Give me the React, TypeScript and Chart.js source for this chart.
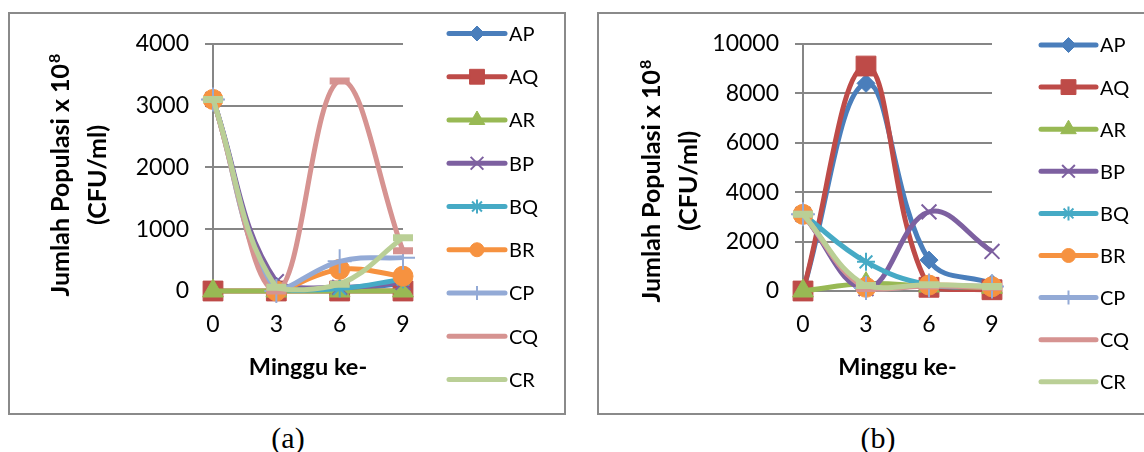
import { useEffect, useRef } from "react";
import { Chart, registerables, PointElement } from "chart.js";

Chart.register(...registerables);

// Sampling weeks and axis ticks
const weeks = [0, 3, 6, 9];
const xTicks = [0, 3, 6, 9];
const yTicksA = [0, 1000, 2000, 3000, 4000];
const yTicksB = [0, 2000, 4000, 6000, 8000, 10000];

// Treatment series names
const seriesNames = ["AP", "AQ", "AR", "BP", "BQ", "BR", "CP", "CQ", "CR"];

// Panel (a) population values (x 10^8 CFU/ml)
const aAP = [3100, 80, 30, 120];
const aAQ = [0, 0, 0, 0];
const aAR = [0, 0, 0, 0];
const aBP = [3100, 150, 60, 140];
const aBQ = [3100, 40, 40, 190];
const aBR = [3100, 0, 350, 240];
const aCP = [3100, 0, 480, 540];
const aCQ = [3100, 0, 3400, 650];
const aCR = [3100, 60, 110, 860];

// Panel (b) population values (x 10^8 CFU/ml)
const bAP = [0, 8400, 1250, 300];
const bAQ = [0, 9100, 150, 50];
const bAR = [0, 300, 200, 150];
const bBP = [3100, 100, 3200, 1600];
const bBQ = [3100, 1180, 250, 200];
const bBR = [3100, 150, 240, 170];
const bCP = [3100, 120, 220, 180];
const bCQ = [3100, 100, 200, 150];
const bCR = [3100, 220, 250, 180];

// Axis titles and captions
const xTitle = "Minggu ke-";
const yTitleMain = "Jumlah Populasi x 10";
const yTitleExp = "8";
const yTitleUnit = "(CFU/ml)";
const captionA = "(a)";
const captionB = "(b)";

// Styling
const seriesColors = [
  "#4A7EBB",
  "#BE4B48",
  "#98B954",
  "#7D60A0",
  "#46AAC5",
  "#F69240",
  "#93AAD6",
  "#D69391",
  "#BACF96",
];
const markerStyles = ["rectRot", "rect", "triangle", "crossRot", "star", "circle", "cross", "line", "line"];
const markerRadius = [9, 14, 12, 10.5, 9, 10, 12, 10, 10];
const markerBorder = [1, 1, 1, 2, 2, 1, 2, 7, 7];
const legendRadius = [7.5, 10.5, 9, 9, 7, 7, 7, 0, 0];
const legendBorder = [1, 1, 1, 2, 2, 1, 2, 0, 0];

const gridColor = "#868686";
const FONT = "Lato, 'Open Sans', sans-serif";

type PanelSpec = {
  width: number;
  height: number;
  values: number[][];
  yTicks: number[];
  plotLeft: number;
  plotRight: number;
  plotTop: number;
  plotBottom: number;
  yTitleX: number;
  yTitleY: number;
  legendLineX1: number;
  legendLineX2: number;
  legendTextX: number;
  legendTop: number;
  legendStep: number;
};

const panelA: PanelSpec = {
  width: 554,
  height: 399,
  values: [aAP, aAQ, aAR, aBP, aBQ, aBR, aCP, aCQ, aCR],
  yTicks: yTicksA,
  plotLeft: 203,
  plotRight: 393,
  plotTop: 28,
  plotBottom: 277,
  yTitleX: 68.5,
  yTitleY: 161,
  legendLineX1: 439,
  legendLineX2: 495,
  legendTextX: 499,
  legendTop: 19.5,
  legendStep: 43.25,
};

const panelB: PanelSpec = {
  width: 548,
  height: 399,
  values: [bAP, bAQ, bAR, bBP, bBQ, bBR, bCP, bCQ, bCR],
  yTicks: yTicksB,
  plotLeft: 204,
  plotRight: 393,
  plotTop: 28,
  plotBottom: 277,
  yTitleX: 70,
  yTitleY: 167,
  legendLineX1: 442,
  legendLineX2: 497,
  legendTextX: 501,
  legendTop: 31,
  legendStep: 42.1,
};

function decorations(spec: PanelSpec) {
  return {
    id: "panelDecorations",
    afterDraw(chart: any) {
      const ctx: CanvasRenderingContext2D = chart.ctx;
      const area = chart.chartArea;
      ctx.save();
      ctx.fillStyle = "#000";

      // x-axis title
      ctx.font = `bold 23.5px ${FONT}`;
      ctx.textAlign = "center";
      ctx.textBaseline = "middle";
      ctx.fillText(xTitle, (area.left + area.right) / 2, 353);

      // y-axis title, two lines with a superscript exponent
      ctx.save();
      ctx.translate(spec.yTitleX, spec.yTitleY);
      ctx.rotate(-Math.PI / 2);
      ctx.textBaseline = "alphabetic";
      ctx.textAlign = "left";
      const mainFont = `bold 25px ${FONT}`;
      const supFont = `bold 16px ${FONT}`;
      ctx.font = mainFont;
      const w1 = ctx.measureText(yTitleMain).width;
      ctx.font = supFont;
      const w2 = ctx.measureText(yTitleExp).width;
      const sx = -(w1 + w2 + 1) / 2;
      ctx.font = mainFont;
      ctx.fillText(yTitleMain, sx, -18.5 + 9);
      ctx.font = supFont;
      ctx.fillText(yTitleExp, sx + w1 + 1, -18.5 + 9 - 9);
      ctx.font = mainFont;
      ctx.textAlign = "center";
      ctx.fillText(yTitleUnit, 0, 18.5 + 9);
      ctx.restore();

      // legend: line sample, marker and name for each series
      const full = { left: 0, top: 0, right: 10000, bottom: 10000 };
      seriesNames.forEach((name, i) => {
        const y = spec.legendTop + i * spec.legendStep;
        const color = seriesColors[i];
        ctx.save();
        ctx.strokeStyle = color;
        ctx.lineWidth = 5;
        ctx.lineCap = "round";
        ctx.beginPath();
        ctx.moveTo(spec.legendLineX1, y);
        ctx.lineTo(spec.legendLineX2, y);
        ctx.stroke();
        ctx.restore();
        if (legendRadius[i] > 0) {
          const pt: any = new PointElement({
            x: (spec.legendLineX1 + spec.legendLineX2) / 2,
            y,
            options: {
              pointStyle: markerStyles[i],
              radius: legendRadius[i],
              rotation: 0,
              borderWidth: legendBorder[i],
              borderColor: color,
              backgroundColor: color,
            },
          } as any);
          pt.draw(ctx, full);
        }
        ctx.fillStyle = "#000";
        ctx.font = `20px ${FONT}`;
        ctx.textAlign = "left";
        ctx.textBaseline = "middle";
        ctx.fillText(name, spec.legendTextX, y + 1);
      });
      ctx.restore();
    },
  };
}

function buildConfig(spec: PanelSpec): any {
  const datasets = seriesNames.map((name, i) => ({
    label: name,
    data: weeks.map((w, k) => ({ x: w, y: spec.values[i][k] })),
    borderColor: seriesColors[i],
    backgroundColor: seriesColors[i],
    borderWidth: 5,
    tension: 0.4,
    pointStyle: markerStyles[i],
    pointRadius: markerRadius[i],
    pointBorderWidth: markerBorder[i],
    pointBackgroundColor: seriesColors[i],
    pointBorderColor: seriesColors[i],
    order: seriesNames.length - i,
    clip: 16,
  }));
  const yMax = spec.yTicks[spec.yTicks.length - 1];
  return {
    type: "line",
    data: { datasets },
    options: {
      responsive: false,
      animation: false,
      events: [],
      layout: {
        padding: {
          left: 0,
          top: spec.plotTop,
          bottom: 0,
          right: spec.width - spec.plotRight,
        },
      },
      plugins: {
        legend: { display: false },
        tooltip: { enabled: false },
        title: { display: false },
      },
      scales: {
        x: {
          type: "linear",
          min: 0,
          max: 9,
          afterBuildTicks: (s: any) => {
            s.ticks = xTicks.map((v) => ({ value: v }));
          },
          afterFit: (s: any) => {
            s.height = spec.height - spec.plotBottom;
          },
          grid: { display: false, drawTicks: false },
          border: { display: true, color: gridColor, width: 2 },
          ticks: {
            autoSkip: false,
            maxRotation: 0,
            color: "#000",
            font: { family: FONT, size: 23 },
            padding: 20,
            callback: (v: number) => String(v),
          },
        },
        y: {
          type: "linear",
          min: 0,
          max: yMax,
          afterBuildTicks: (s: any) => {
            s.ticks = spec.yTicks.map((v) => ({ value: v }));
          },
          afterFit: (s: any) => {
            s.width = spec.plotLeft;
          },
          grid: { color: gridColor, lineWidth: 2, tickLength: 8, drawTicks: true },
          border: { display: true, color: gridColor, width: 2 },
          ticks: {
            color: "#000",
            font: { family: FONT, size: 23 },
            padding: 16,
            callback: (v: number) => String(v),
          },
        },
      },
    },
    plugins: [decorations(spec)],
  };
}

function Panel({ spec, left, top, boxWidth }: { spec: PanelSpec; left: number; top: number; boxWidth: number }) {
  const ref = useRef<HTMLCanvasElement>(null);
  useEffect(() => {
    const chart = new Chart(ref.current as HTMLCanvasElement, buildConfig(spec));
    return () => chart.destroy();
  }, [spec]);
  return (
    <div
      style={{
        position: "absolute",
        left,
        top,
        width: boxWidth,
        height: 403,
        boxSizing: "border-box",
        border: "2px solid #8A8A8A",
        background: "#fff",
      }}
    >
      <canvas ref={ref} width={spec.width} height={spec.height} style={{ display: "block" }} />
    </div>
  );
}

const captionStyle: React.CSSProperties = {
  position: "absolute",
  top: 421,
  width: 80,
  textAlign: "center",
  fontFamily: "'Liberation Serif', 'Times New Roman', serif",
  fontSize: 30,
  lineHeight: "34px",
  color: "#000",
};

export default function App() {
  return (
    <div
      style={{
        position: "fixed",
        left: 0,
        top: 0,
        width: 1144,
        height: 452,
        overflow: "hidden",
        background: "#fff",
      }}
    >
      <Panel spec={panelA} left={8} top={12} boxWidth={558} />
      <Panel spec={panelB} left={597} top={12} boxWidth={552} />
      <div style={{ ...captionStyle, left: 288 - 40 }}>{captionA}</div>
      <div style={{ ...captionStyle, left: 878 - 40 }}>{captionB}</div>
    </div>
  );
}
